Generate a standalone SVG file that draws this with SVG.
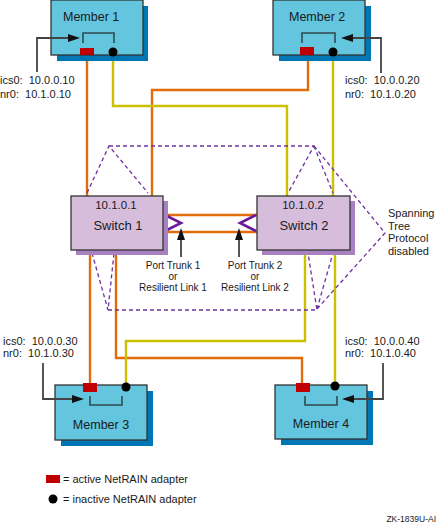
<svg xmlns="http://www.w3.org/2000/svg" width="438" height="524" viewBox="0 0 438 524">
<style>
text{font-family:"Liberation Sans",Arial,sans-serif;fill:#1a1a1a}
.mshadow{fill:#0076B4}
.mbox{fill:#63C5DE;stroke:#333;stroke-width:1.3}
.sshadow{fill:#A882C0}
.sbox{fill:#D7BDDC;stroke:#333;stroke-width:1.3}
.red{fill:#C00000}
.dot{fill:#000}
.brk{fill:none;stroke:#2F4A50;stroke-width:1.6}
.ptr{fill:none;stroke:#444;stroke-width:1.8}
.ah{fill:#111}
.or{fill:none;stroke:#E36C0A;stroke-width:2.4}
.ye{fill:none;stroke:#CCC000;stroke-width:2.4}
.ds{fill:none;stroke:#7030A0;stroke-width:1.3;stroke-dasharray:4,3}
.chev{fill:none;stroke:#6A1A9A;stroke-width:2.6}
.lbl{font-size:11px}
.ml{font-size:12.5px}
.pt{font-size:10px;text-anchor:middle}
</style>
<rect width="438" height="524" fill="#fff"/>
<g id="connectors">
<path class="or" d="M87,55 V196"/>
<path class="or" d="M308,55 V90 H152 V196"/>
<path class="ye" d="M113,56 V106 H287 V196"/>
<path class="ye" d="M333,56 V196"/>
<path class="or" d="M90,250 V383"/>
<path class="or" d="M116,250 V358 H302 V383"/>
<path class="ye" d="M126,383 V341 H305 V250"/>
<path class="ye" d="M335,383 V250"/>
<path class="or" d="M163,215 H257 M163,232 H257"/>
<path class="chev" d="M165,215 L181,223 L165,231"/>
<path class="chev" d="M256,215 L240,223 L256,231"/>
<path class="ds" d="M87,193 L109,146 L148,193 M109,146 H314 L288,193 M314,146 L333,193 M314,146 L385,233 L317,309 M92,253 L108,310 L114,253 M108,310 H317 L308,253 M317,309 L333,253"/>
<path class="ptr" d="M181,257 V238 M239,257 V238"/>
<polygon class="ah" points="181,228 177,240 185,240"/>
<polygon class="ah" points="239,228 235,240 243,240"/>
</g>
<g id="member1">
<rect class="mshadow" x="57" y="6" width="91" height="55"/>
<rect class="mbox" x="51" y="0" width="92" height="55"/>
<text class="ml" x="63" y="21">Member 1</text>
<path class="brk" d="M83,43 V33 H114 V43"/>
<rect class="red" x="80" y="48" width="14" height="7"/>
<circle class="dot" cx="113" cy="52" r="4.5"/>
<path class="ptr" d="M37,72 V38 H70"/>
<polygon class="ah" points="80,38 68,34 68,42"/>
<text class="lbl" x="0" y="84" xml:space="preserve">ics0:  10.0.0.10</text>
<text class="lbl" x="0" y="98" xml:space="preserve">nr0:  10.1.0.10</text>
</g>
<g id="member2">
<rect class="mshadow" x="279" y="6" width="92" height="55"/>
<rect class="mbox" x="273" y="0" width="92" height="55"/>
<text class="ml" x="289" y="21">Member 2</text>
<path class="brk" d="M302,43 V33 H335 V43"/>
<rect class="red" x="300" y="47" width="14" height="8"/>
<circle class="dot" cx="333" cy="52" r="4.5"/>
<path class="ptr" d="M381,73 V38 H351"/>
<polygon class="ah" points="341,38 353,34 353,42"/>
<text class="lbl" x="345" y="84" xml:space="preserve">ics0:  10.0.0.20</text>
<text class="lbl" x="345" y="98" xml:space="preserve">nr0:  10.1.0.20</text>
</g>
<g id="switch1">
<rect class="sshadow" x="76" y="201" width="92" height="54"/>
<rect class="sbox" x="71" y="196" width="92" height="54"/>
<text x="116" y="209" font-size="11.5" text-anchor="middle">10.1.0.1</text>
<text x="118" y="230" font-size="13" text-anchor="middle">Switch 1</text>
</g>
<g id="switch2">
<rect class="sshadow" x="262" y="201" width="93" height="54"/>
<rect class="sbox" x="257" y="196" width="93" height="54"/>
<text x="303" y="209" font-size="11.5" text-anchor="middle">10.1.0.2</text>
<text x="304" y="230" font-size="13" text-anchor="middle">Switch 2</text>
</g>
<g id="portlabels">
<text class="pt" x="173" y="269">Port Trunk 1</text>
<text class="pt" x="173" y="280">or</text>
<text class="pt" x="173" y="291">Resilient Link 1</text>
<text class="pt" x="255" y="269">Port Trunk 2</text>
<text class="pt" x="255" y="280">or</text>
<text class="pt" x="255" y="291">Resilient Link 2</text>
</g>
<g id="stp">
<text class="lbl" x="388" y="217">Spanning</text>
<text class="lbl" x="388" y="229.5">Tree</text>
<text class="lbl" x="388" y="242">Protocol</text>
<text class="lbl" x="388" y="254.5">disabled</text>
</g>
<g id="member3">
<rect class="mshadow" x="61" y="391" width="92" height="55"/>
<rect class="mbox" x="55" y="385" width="92" height="55"/>
<text class="ml" x="101" y="429" text-anchor="middle">Member 3</text>
<path class="brk" d="M90,396 V405 H122 V396"/>
<rect class="red" x="83" y="383" width="14" height="9"/>
<circle class="dot" cx="126" cy="387" r="4.5"/>
<path class="ptr" d="M43,363 V399 H74"/>
<polygon class="ah" points="84,399 72,395 72,403"/>
<text class="lbl" x="3" y="345" xml:space="preserve">ics0:  10.0.0.30</text>
<text class="lbl" x="3" y="357" xml:space="preserve">nr0:  10.1.0.30</text>
</g>
<g id="member4">
<rect class="mshadow" x="281" y="391" width="92" height="54"/>
<rect class="mbox" x="275" y="385" width="92" height="54"/>
<text class="ml" x="321" y="428" text-anchor="middle">Member 4</text>
<path class="brk" d="M305,396 V405 H337 V396"/>
<rect class="red" x="296" y="383" width="14" height="9"/>
<circle class="dot" cx="335" cy="386" r="4.5"/>
<path class="ptr" d="M383,363 V399 H352"/>
<polygon class="ah" points="342,399 354,395 354,403"/>
<text class="lbl" x="345" y="345" xml:space="preserve">ics0:  10.0.0.40</text>
<text class="lbl" x="345" y="357" xml:space="preserve">nr0:  10.1.0.40</text>
</g>
<g id="legend">
<rect class="red" x="46" y="475" width="14" height="8"/>
<text class="lbl" x="63" y="483">= active NetRAIN adapter</text>
<circle class="dot" cx="53" cy="499" r="4.5"/>
<text class="lbl" x="63" y="503">= inactive NetRAIN adapter</text>
<text x="436" y="522" font-size="8.5" text-anchor="end">ZK-1839U-AI</text>
</g>
</svg>
